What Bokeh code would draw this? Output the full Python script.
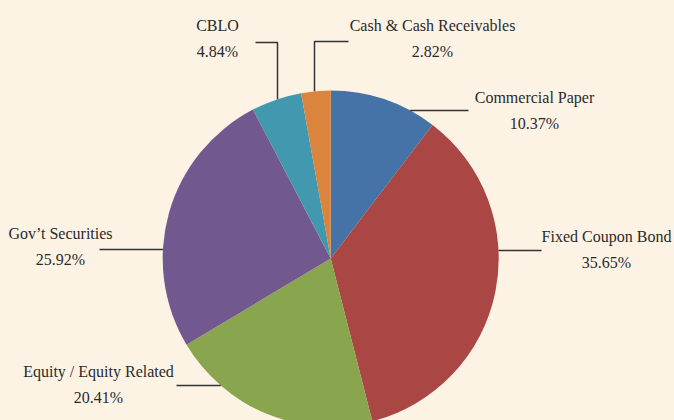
import numpy as np
from bokeh.plotting import figure
from bokeh.models import Range1d, ColumnDataSource
from bokeh.core.properties import value
from bokeh.embed import file_html
from bokeh.resources import INLINE

# ---- data ----
categories = ["Commercial Paper", "Fixed Coupon Bond", "Equity / Equity Related",
              "Gov\u2019t Securities", "CBLO", "Cash & Cash Receivables"]
shares = [10.37, 35.65, 20.41, 25.92, 4.84, 2.82]
colors = ["#4572A7", "#AA4643", "#89A54E", "#71588F", "#4198AF", "#DB843D"]

# ---- layout (screen pixel coordinates) ----
BG = "#FDF3E5"
W, H = 674, 420
CX, CY, R = 330.2, 258.0, 168.0
label_pos = [(534, 97), (606, 236), (98, 371), (60, 233), (217, 25), (432, 25)]
LINE_GAP = 26
# leader lines: ("h", y, outer_x) or ("elbow", y, outer_x, vertical_x)
leaders = [("h", 110, 468), ("h", 250, 541), ("h", 385, 176), ("h", 249, 99),
           ("elbow", 42, 255, 277), ("elbow", 41, 348, 314)]

def dy(py):
    return H - py

p = figure(width=W, height=H, output_backend="svg", toolbar_location=None,
           x_range=Range1d(0, W), y_range=Range1d(0, H), min_border=0)
p.axis.visible = False
p.grid.visible = False
p.outline_line_color = None
p.background_fill_color = BG
p.border_fill_color = BG

total = sum(shares)
cum = np.concatenate([[0.0], np.cumsum(shares)]) / total
starts = np.pi / 2 - cum[1:] * 2 * np.pi
ends = np.pi / 2 - cum[:-1] * 2 * np.pi
src = ColumnDataSource(dict(start=starts, end=ends, color=colors))
p.wedge(x=CX, y=dy(CY), radius=R, start_angle="start", end_angle="end",
        direction="anticlock", fill_color="color", line_color=None, source=src)

xs, ys = [], []
for ld in leaders:
    if ld[0] == "h":
        _, y, xo = ld
        dx = np.sqrt(R ** 2 - (y - CY) ** 2)
        xe = CX + np.sign(xo - CX) * dx
        xs.append([xo, xe]); ys.append([dy(y), dy(y)])
    else:
        _, y, xo, xv = ld
        dyy = np.sqrt(R ** 2 - (xv - CX) ** 2)
        ye = CY - dyy
        xs.append([xo, xv, xv]); ys.append([dy(y), dy(y), dy(ye)])
p.multi_line(xs=xs, ys=ys, line_color="#333333", line_width=1.5)

name_src = ColumnDataSource(dict(x=[lp[0] for lp in label_pos],
                                 y=[dy(lp[1]) for lp in label_pos],
                                 t=categories))
pct_src = ColumnDataSource(dict(x=[lp[0] for lp in label_pos],
                                y=[dy(lp[1] + LINE_GAP) for lp in label_pos],
                                t=[f"{s:.2f}%" for s in shares]))
for s in (name_src, pct_src):
    p.text(x="x", y="y", text="t", source=s, text_align="center",
           text_baseline="middle", text_font=value("Liberation Serif"),
           text_font_size="16px", text_color="#2a2a2a")

html = file_html(p, INLINE)
html = html.replace("<head>", "<head><style>html,body{margin:0;padding:0;overflow:hidden;background:%s;}</style>" % BG, 1)
open("out.html", "w").write(html)
